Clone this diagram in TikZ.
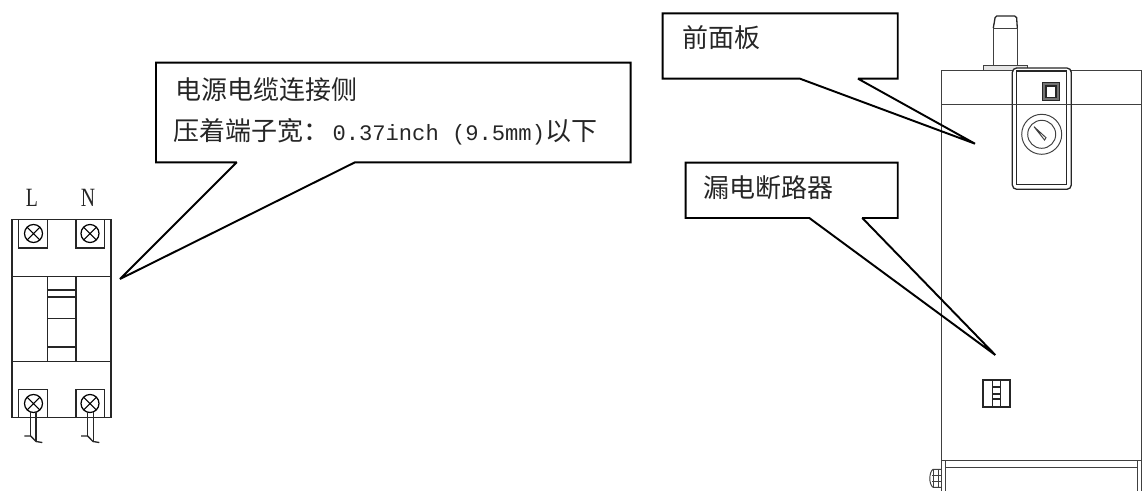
\documentclass[tikz,border=0pt]{standalone}
\usepackage{fontspec}
\setmainfont{Liberation Mono}
\newfontfamily\cjk{Noto Sans CJK SC}
\newfontfamily\polefont[FakeStretch=0.75]{Liberation Serif}
\usepackage{tikz}
\tikzstyle{callout} = [draw, line width=1.1pt, line join=miter, miter limit=1.5]
\tikzstyle{thin line} = [draw, line width=0.55pt, black!75]
\tikzstyle{part} = [draw, line width=0.75pt, black!85]
\tikzstyle{note} = [anchor=west, inner sep=0pt, black!85, font=\fontsize{12.6}{14}\selectfont]
\tikzstyle{pole} = [inner sep=0pt, black!85, font=\polefont\fontsize{15}{17}\selectfont]
\tikzstyle{screw} = [draw, circle, line width=0.7pt, minimum size=0.36cm, inner sep=0pt,
    path picture={\draw [line width=0.6pt] (path picture bounding box.north west) -- (path picture bounding box.south east)
      (path picture bounding box.north east) -- (path picture bounding box.south west);}]
\begin{document}
\begin{tikzpicture}[x=0.02cm, y=-0.02cm]
  \useasboundingbox (0,0) rectangle (1148,491);
  % breaker on the left
  \node [pole] (poleL) at (32,198) {L};
  \node [pole] (poleN) at (88,198) {N};
  \draw [part] (12,219.5) rectangle (111,417.7);
  \draw [part] (18.5,219.5) rectangle (47.5,248);
  \draw [part] (76,219.5) rectangle (104.5,248);
  \draw [part] (18.5,389.3) rectangle (47.5,417.7);
  \draw [part] (76,389.3) rectangle (104.5,417.7);
  \draw [part] (12,276.7) -- (111,276.7);
  \draw [part] (12,361.3) -- (111,361.3);
  \draw [part] (47.5,276.7) -- (47.5,361.3);
  \draw [part] (76,276.7) -- (76,361.3);
  \draw [part] (47.5,290) -- (76,290);
  \draw [part] (47.5,297) -- (76,297);
  \draw [part] (47.5,318.5) -- (76,318.5);
  \draw [part] (47.5,347) -- (76,347);
  \node [screw] (screw1) at (33.5,233.5) {};
  \node [screw] (screw2) at (90,233.5) {};
  \node [screw] (screw3) at (33.5,403.5) {};
  \node [screw] (screw4) at (90,403.5) {};
  % cables
  \draw [part] (30.5,412) -- (30.5,436) (36,412) -- (36,441);
  \draw [part] (87.5,412) -- (87.5,436) (93.5,412) -- (93.5,441);
  \draw [part] (24.3,436) -- (30.7,436) -- (36,441.5) -- (42.3,442.5);
  \draw [part] (81,436) -- (87.7,436) -- (93,441.5) -- (99.3,442.5);
  % cabinet on the right
  \draw [thin line] (941.7,70) -- (1012.3,70);
  \draw [thin line] (1071.3,70) -- (1141,70);
  \draw [thin line] (941.7,104.3) -- (1141,104.3);
  \draw [thin line] (941.7,70) -- (941.7,491);
  \draw [thin line] (1141,70) -- (1141,491);
  \draw [thin line] (945,460) -- (945,491);
  \draw [thin line] (1137.7,460) -- (1137.7,491);
  \draw [thin line] (941.7,460.3) -- (1141,460.3);
  \draw [thin line] (945,467.7) -- (1137.7,467.7);
  % bolt
  \draw [thin line] (941.7,469.3) -- (933,469.3) .. controls (929,472) and (928.5,484) .. (933,487.3) -- (941.7,487.3);
  \draw [thin line] (933,469.3) -- (933,487.3);
  \draw [thin line] (938.5,469.3) -- (938.5,487.3);
  \draw [thin line] (932,475) -- (941.7,475);
  \draw [thin line] (932,481.7) -- (941.7,481.7);
  % stem
  \draw [thin line] (993.3,65.7) -- (993.3,28) -- (1017.3,28) -- (1017.3,65.7);
  \draw [part] (993.3,28) -- (995,18) [rounded corners=1pt] -- (995,16) -- (1016.5,16) -- (1017.3,28);
  \draw [thin line, fill=black!10] (983.3,65.7) rectangle (1027.7,70);
  % front panel
  \draw [part, fill=white, rounded corners=2.5pt] (1012.3,68) rectangle (1071.3,189.3);
  \draw [part, fill=white] (1016.7,71) rectangle (1066.7,184.3);
  \draw [thin line] (1012.3,104.3) -- (1071.3,104.3);
  \draw [part, fill=black!55] (1042.3,82.3) rectangle (1059.3,100.7);
  \draw [part, fill=white] (1046,86) rectangle (1056,97.7);
  \node [draw, circle, thin line, minimum size=0.8cm, inner sep=0pt] (gaugeOut) at (1041.7,134.3) {};
  \node [draw, circle, thin line, minimum size=0.56cm, inner sep=0pt] (gaugeIn) at (1041.7,134.3) {};
  \draw [thin line] (1034,126.7) -- (1046,137.7) -- (1044.5,140) -- cycle;
  % small breaker
  \draw [line width=0.95pt, black!85] (982.7,380.3) rectangle (1010.3,406.7);
  \draw [part] (992.7,380.3) -- (992.7,406.7);
  \draw [part] (1000.7,380.3) -- (1000.7,406.7);
  \draw [line width=0.95pt, black!85] (992.7,387) -- (1000.7,387);
  \draw [part] (992.7,394) -- (1000.7,394);
  \draw [line width=0.95pt, black!85] (992.7,399.3) -- (1000.7,399.3);
  % callouts
  \draw [callout] (156,62.7) -- (630.7,62.7) -- (630.7,162.3) -- (355,162.3) -- (120,279) -- (236.7,162.3) -- (156,162.3) -- cycle;
  \draw [callout] (662.7,13.3) -- (897.7,13.3) -- (897.7,78.7) -- (858,78.7) -- (975,143.7) -- (800,78.7) -- (662.7,78.7) -- cycle;
  \draw [callout] (685.7,162.7) -- (897.7,162.7) -- (897.7,218) -- (862.3,218) -- (995.3,355) -- (809.3,218) -- (685.7,218) -- cycle;
  \node [note] (cableNote) at (175,90) {{\cjk\fontsize{14.8}{16}\selectfont 电源电缆连接侧}};
  \node [note] (widthNote) at (173,132) {{\cjk\fontsize{14.8}{16}\selectfont 压着端子宽：}\hspace{1.8pt}0.37inch (9.5mm){\cjk\fontsize{14.8}{16}\selectfont 以下}};
  \node [note] (panelNote) at (681.7,38) {{\cjk\fontsize{14.8}{16}\selectfont 前面板}};
  \node [note] (leakNote) at (703,188) {{\cjk\fontsize{14.8}{16}\selectfont 漏电断路器}};
\end{tikzpicture}
\end{document}
